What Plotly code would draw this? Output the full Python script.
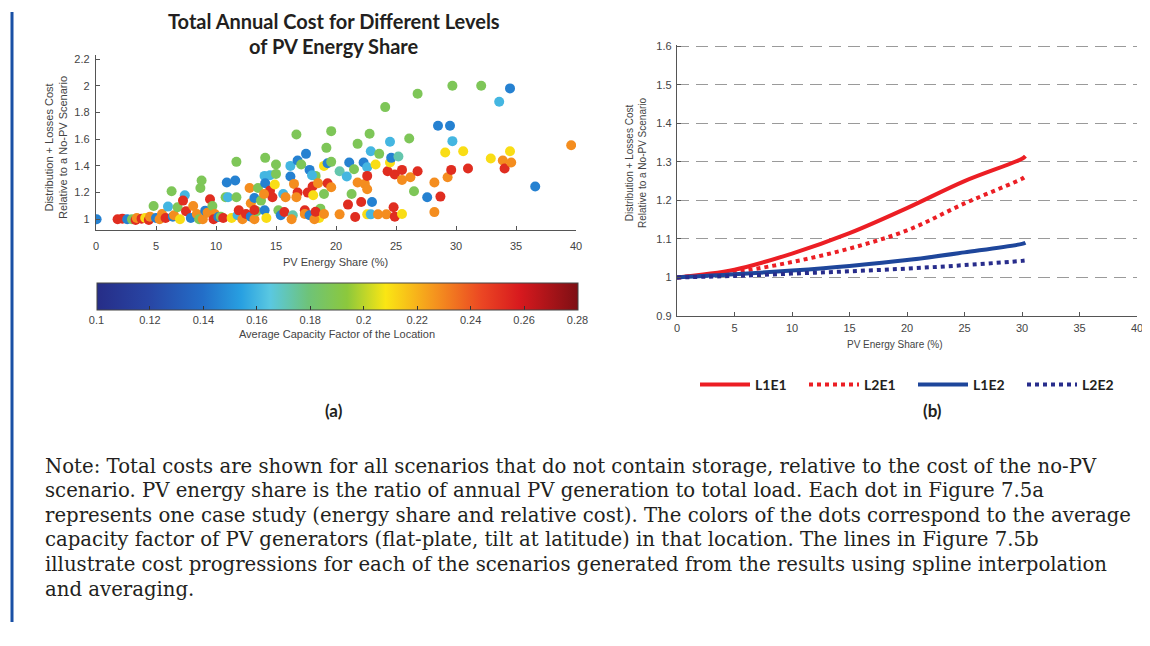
import plotly.graph_objects as go

# The page body has an 8px margin, so the figure is drawn 8px in from the window corner.
OFF = 8
W, H = 1150 - OFF, 646 - OFF

# ---------------- Panel (a) data: PV energy share (%), relative cost, capacity factor
B, C, T, G, Y, O, R = 0.145, 0.160, 0.172, 0.187, 0.210, 0.228, 0.252

share_pct = [
    0.05, 1.8, 2.2, 2.6, 3.0, 3.3, 3.4, 3.8, 4.1, 4.4, 4.5, 4.8, 5.0, 5.5, 5.3, 5.8,
    6.0, 6.3, 6.4, 6.5, 6.8, 7.0, 7.4, 7.25, 7.5, 7.9, 8.1, 8.4, 8.6, 8.7, 8.8, 8.9,
    9.1, 9.3, 9.5, 9.7, 9.9, 9.8,
    10.2, 10.4, 10.6, 10.8, 10.9, 11.0, 11.3, 11.6, 11.7, 11.7, 11.8, 11.9, 12.2, 12.5,
    12.8, 12.9, 12.9, 13.2, 13.2, 13.4, 13.5, 13.75, 13.2,
    14.05, 14.1, 14.05, 14.5, 14.1, 14.2, 14.5, 14.7, 14.0, 14.9, 15.0, 15.0, 15.2, 15.4,
    15.6, 15.8, 15.7, 16.2, 16.2, 16.4, 16.3, 16.5, 16.7, 16.8, 16.8, 16.7, 17.1, 17.4,
    17.4, 17.5, 17.65, 17.8, 17.8,
    18.05, 18.1, 18.3, 18.0, 18.5, 18.6, 18.7, 18.2, 18.3, 19.0, 19.0, 19.2, 19.3, 19.3,
    19.6, 19.6, 19.6, 19.0,
    20.3, 20.3, 20.9, 21.0, 21.1, 21.3, 21.5, 21.6, 21.8, 21.8, 22.1, 22.3, 22.4, 22.6,
    22.6, 22.6, 22.6, 22.8, 22.9, 22.9, 23.0, 23.3, 23.5, 23.6,
    24.1, 24.2, 24.3, 24.5, 24.5, 24.6, 24.8, 24.9, 24.9, 25.2, 25.5, 25.5, 25.5, 26.1,
    26.2, 26.5, 26.8, 26.8,
    27.6, 28.2, 28.2, 28.5, 28.7, 29.1, 29.3, 29.5, 29.6, 29.7, 29.7, 30.6, 31.0, 32.1,
    32.9, 33.6, 33.9, 34.05, 34.5, 34.5, 34.6, 36.6, 39.6,
]
rel_cost = [
    1.0, 1.0, 1.005, 1.0, 1.0, 0.995, 1.01, 1.005, 1.01, 0.995, 1.02, 1.10, 1.01, 1.04, 1.0, 1.01,
    1.095, 1.21, 1.02, 1.03, 1.09, 1.0, 1.18, 1.14, 1.06, 1.01, 1.10, 1.04, 1.0, 1.235, 1.29, 1.0,
    1.065, 1.05, 1.15, 1.10, 1.04, 1.0,
    1.017, 1.02, 1.01, 1.165, 1.275, 1.165, 1.01, 1.29, 1.43, 1.165, 1.03, 1.067, 1.0, 1.04,
    1.235, 1.12, 1.02, 1.16, 1.0, 1.06, 1.235, 1.14, 1.07,
    1.067, 1.46, 1.325, 1.33, 1.27, 1.01, 1.215, 1.165, 1.19, 1.26, 1.41, 1.34, 1.067, 1.03,
    1.19, 1.165, 1.055, 1.32, 1.40, 1.03, 1.0, 1.265, 1.635, 1.44, 1.20, 1.165, 1.41, 1.067,
    1.04, 1.49, 1.20, 1.37, 1.03,
    1.245, 1.18, 1.325, 1.33, 1.27, 1.01, 1.08, 1.0, 1.057, 1.40, 1.19, 1.535, 1.42, 1.27,
    1.24, 1.66, 1.43, 1.04,
    1.36, 1.037, 1.32, 1.11, 1.425, 1.19, 1.375, 1.017, 1.565, 1.275, 1.13, 1.425, 1.265, 1.225,
    1.39, 1.325, 1.037, 1.64, 1.51, 1.037, 1.13, 1.41, 1.037, 1.49,
    1.84, 1.037, 1.36, 1.58, 1.425, 1.46, 1.09, 1.335, 1.02, 1.47, 1.37, 1.295, 1.04, 1.605,
    1.315, 1.21, 1.94, 1.36,
    1.165, 1.275, 1.054, 1.70, 1.17, 1.50, 1.315, 1.70, 1.37, 1.585, 2.0, 1.51, 1.38, 2.0,
    1.455, 1.88, 1.44, 1.38, 1.98, 1.51, 1.425, 1.245, 1.555,
]
cap_factor = [
    B, R, R, B, G, R, O, R, Y, R, O, G, B, O, O, R,
    C, G, B, O, G, Y, C, R, R, B, O, O, G, G, G, O,
    B, O, R, G, O, R,
    B, G, R, G, B, C, Y, B, G, G, C, R, O, R,
    O, O, B, B, O, G, G, G, R,
    B, G, C, C, B, Y, R, R, O, Y, G, G, G, B,
    C, O, R, B, C, T, O, O, G, B, R, O, G, R,
    O, B, R, B, B,
    R, Y, G, C, O, Y, G, O, R, Y, G, G, B, R,
    O, G, G, O,
    T, O, C, R, B, G, G, R, G, O, R, B, O, O,
    C, R, Y, G, C, C, B, Y, O, G,
    G, O, R, C, Y, B, R, R, R, T, R, O, Y, G,
    O, G, G, R,
    B, O, O, B, R, Y, O, B, R, C, G, Y, R, G,
    Y, C, O, R, B, Y, O, B, O,
]

x_ticks_a = [0, 5, 10, 15, 20, 25, 30, 35, 40]
y_ticks_a = [1, 1.2, 1.4, 1.6, 1.8, 2, 2.2]
cf_ticks = [0.1, 0.12, 0.14, 0.16, 0.18, 0.2, 0.22, 0.24, 0.26, 0.28]

# ---------------- Panel (b) data
share_b = [0, 5, 10, 15, 20, 25, 30, 30.3]
l1e1 = [1.0, 1.02, 1.062, 1.115, 1.18, 1.25, 1.308, 1.315]
l2e1 = [1.0, 1.014, 1.04, 1.075, 1.122, 1.192, 1.256, 1.262]
l1e2 = [1.0, 1.008, 1.018, 1.03, 1.045, 1.065, 1.087, 1.09]
l2e2 = [1.0, 1.004, 1.01, 1.016, 1.023, 1.032, 1.043, 1.044]
x_ticks_b = [0, 5, 10, 15, 20, 25, 30, 35, 40]
y_ticks_b = [0.9, 1, 1.1, 1.2, 1.3, 1.4, 1.5, 1.6]


def fx(px):  # screen pixel -> paper fraction
    return (px - OFF) / W


def fy(py):
    return 1 - (py - OFF) / H


colorscale = [
    [0.00, "rgb(38,45,135)"],
    [0.11, "rgb(40,70,165)"],
    [0.22, "rgb(35,110,200)"],
    [0.30, "rgb(40,160,225)"],
    [0.36, "rgb(90,200,225)"],
    [0.44, "rgb(110,195,120)"],
    [0.52, "rgb(140,200,60)"],
    [0.60, "rgb(250,230,20)"],
    [0.70, "rgb(245,150,30)"],
    [0.80, "rgb(235,70,35)"],
    [0.88, "rgb(215,25,30)"],
    [1.00, "rgb(125,15,20)"],
]

AX_FONT = dict(family="Liberation Sans, Arial, sans-serif", size=11, color="#444")
SMALL_FONT = dict(family="Liberation Sans, Arial, sans-serif", size=10, color="#444")
RED = "rgb(236,30,36)"
BLUE = "rgb(30,70,155)"
NAVY = "rgb(40,45,140)"

fig = go.Figure()

fig.add_trace(go.Scatter(
    x=share_pct, y=rel_cost, mode="markers", xaxis="x", yaxis="y", showlegend=False,
    marker=dict(
        size=10, color=cap_factor, colorscale=colorscale, cmin=0.1, cmax=0.28,
        line=dict(width=0),
        colorbar=dict(
            orientation="h", x=fx(337), xanchor="center", y=fy(283), yanchor="top",
            lenmode="pixels", len=481, thickness=27, xpad=0, ypad=0,
            outlinewidth=1, outlinecolor="#444",
            tickvals=cf_ticks, ticktext=[f"{v:g}" for v in cf_ticks],
            ticks="inside", ticklen=4, tickcolor="#333",
            tickfont=AX_FONT,
            title=dict(text="Average Capacity Factor of the Location", side="bottom",
                       font=AX_FONT),
        ),
    ),
))

for name, vals, color, dash in [
    ("L1E1", l1e1, RED, "solid"),
    ("L2E1", l2e1, RED, "dot"),
    ("L1E2", l1e2, BLUE, "solid"),
    ("L2E2", l2e2, NAVY, "dot"),
]:
    fig.add_trace(go.Scatter(
        x=share_b, y=vals, mode="lines", name=name, xaxis="x2", yaxis="y2",
        line=dict(color=color, width=4, dash=dash, shape="spline"),
    ))

axis_common = dict(showline=True, linecolor="#555", linewidth=1.3, ticks="inside",
                   ticklen=4, tickcolor="#555", tickfont=AX_FONT, zeroline=False,
                   mirror=False, automargin=False)

fig.update_layout(
    width=W, height=H, margin=dict(l=0, r=0, t=0, b=0, autoexpand=False),
    paper_bgcolor="white", plot_bgcolor="white",
    xaxis=dict(domain=[fx(96), fx(576)], range=[0, 40], tickvals=x_ticks_a,
               showgrid=False, anchor="y", ticklabelstandoff=6, **axis_common),
    yaxis=dict(domain=[fy(230), fy(55)], range=[0.92, 2.23], tickvals=y_ticks_a,
               ticktext=[f"{v:g}" for v in y_ticks_a],
               showgrid=False, anchor="x", ticklabelstandoff=3, **axis_common),
    xaxis2=dict(domain=[fx(677), fx(1137)], range=[0, 40], tickvals=x_ticks_b,
                showgrid=False, anchor="y2", ticklabelstandoff=2,
                ticklabeloverflow="allow", **axis_common),
    yaxis2=dict(domain=[fy(316), fy(45)], range=[0.9, 1.603], tickvals=y_ticks_b,
                ticktext=[f"{v:g}" for v in y_ticks_b],
                showgrid=True, gridcolor="#9a9a9a", gridwidth=1, griddash="12px,7px",
                anchor="x2", ticklabelstandoff=2, **axis_common),
    legend=dict(orientation="h", x=fx(695), y=fy(369), xanchor="left", yanchor="top",
                font=dict(family="Lato, sans-serif", size=14, color="#231f20", weight="bold"),
                itemwidth=50, entrywidth=44, entrywidthmode="pixels",
                bgcolor="rgba(0,0,0,0)"),
)

ann = []
TITLE_FONT = dict(family="Lato, sans-serif", size=20, color="#231f20", weight="bold")
ann.append(dict(text="Total Annual Cost for Different Levels", x=fx(334), y=fy(21), font=TITLE_FONT))
ann.append(dict(text="of PV Energy Share", x=fx(334), y=fy(46), font=TITLE_FONT))
ann.append(dict(text="Distribution + Losses Cost<br>Relative to a No-PV Scenario",
                x=fx(56), y=fy(148), textangle=-90, font=AX_FONT))
ann.append(dict(text="PV Energy Share (%)", x=fx(336), y=fy(262), font=AX_FONT))
ann.append(dict(text="Distribution + Losses Cost<br>Relative to a No-PV Scenario",
                x=fx(636), y=fy(163), textangle=-90, font=SMALL_FONT))
ann.append(dict(text="PV Energy Share (%)", x=fx(895), y=fy(344), font=SMALL_FONT))
CAP_FONT = dict(family="Lato, sans-serif", size=17, color="#231f20", weight="bold")
ann.append(dict(text="(a)", x=fx(334), y=fy(410), font=CAP_FONT))
ann.append(dict(text="(b)", x=fx(932), y=fy(410), font=CAP_FONT))

note_lines = [
    "Note: Total costs are shown for all scenarios that do not contain storage, relative to the cost of the no-PV",
    "scenario. PV energy share is the ratio of annual PV generation to total load. Each dot in Figure 7.5a",
    "represents one case study (energy share and relative cost). The colors of the dots correspond to the average",
    "capacity factor of PV generators (flat-plate, tilt at latitude) in that location. The lines in Figure 7.5b",
    "illustrate cost progressions for each of the scenarios generated from the results using spline interpolation",
    "and averaging.",
]
NOTE_FONT = dict(family="DejaVu Serif, serif", size=19.7, color="#231f20")
for i, line in enumerate(note_lines):
    ann.append(dict(text=line, x=fx(43), y=fy(466 + i * 24.6), xanchor="left", font=NOTE_FONT))

for a in ann:
    a.setdefault("xanchor", "center")
    a.update(xref="paper", yref="paper", yanchor="middle", showarrow=False)
fig.update_layout(annotations=ann)

fig.add_shape(type="line", xref="paper", yref="paper", x0=fx(12), x1=fx(12),
              y0=fy(12), y1=fy(622), line=dict(color="rgb(25,80,165)", width=3))

fig.write_html("out.html")
